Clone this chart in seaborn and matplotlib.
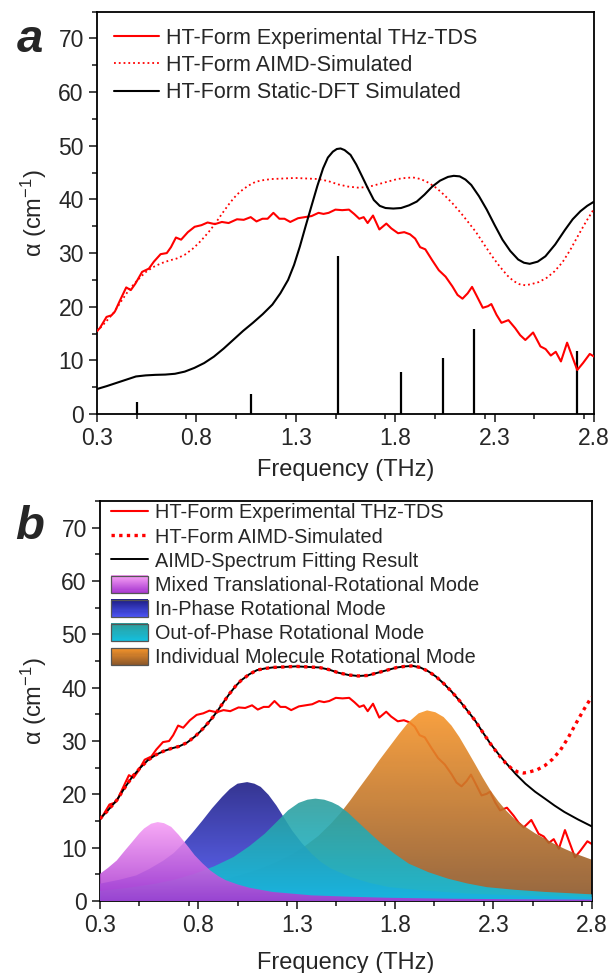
import numpy as np
import matplotlib
matplotlib.use('Agg')
import matplotlib.pyplot as plt
import seaborn as sns
from matplotlib.colors import LinearSegmentedColormap
from matplotlib.lines import Line2D
from matplotlib.patches import Patch, Rectangle
from matplotlib.legend_handler import HandlerBase
from matplotlib.ticker import MultipleLocator

# ---- data ----
# experimental THz-TDS (both panels)
EXP_X = [0.300, 0.314, 0.348, 0.373, 0.390, 0.416, 0.447, 0.470, 0.493, 0.527,
         0.561, 0.586, 0.620, 0.651, 0.672, 0.697, 0.723, 0.757, 0.791, 0.825,
         0.856, 0.893, 0.928, 0.962, 1.004, 1.038, 1.073, 1.102, 1.132, 1.158,
         1.187, 1.217, 1.243, 1.272, 1.311, 1.345, 1.379, 1.414, 1.439, 1.465,
         1.499, 1.533, 1.567, 1.593, 1.619, 1.641, 1.661, 1.688, 1.720, 1.755,
         1.780, 1.814, 1.845, 1.874, 1.900, 1.925, 1.951, 1.985, 2.019, 2.053,
         2.087, 2.113, 2.138, 2.164, 2.186, 2.207, 2.240, 2.266, 2.283, 2.309,
         2.334, 2.369, 2.403, 2.428, 2.454, 2.471, 2.493, 2.513, 2.530, 2.556,
         2.582, 2.607, 2.633, 2.664, 2.693, 2.715, 2.744, 2.778, 2.800]
EXP_Y = [15.5, 16.0, 18.1, 18.4, 19.1, 21.2, 23.6, 23.1, 24.3, 26.5,
         27.1, 28.4, 29.8, 30.0, 31.1, 32.9, 32.5, 33.9, 34.9, 35.2,
         35.7, 35.4, 35.8, 35.6, 36.3, 36.2, 36.7, 35.9, 36.4, 36.4,
         37.5, 36.4, 36.4, 35.8, 36.5, 36.7, 36.9, 37.5, 37.3, 37.5,
         38.1, 38.0, 38.1, 37.3, 36.4, 36.7, 35.6, 37.0, 34.4, 35.5,
         34.6, 33.7, 33.9, 33.5, 32.7, 31.1, 30.7, 28.7, 26.8, 25.6,
         23.8, 22.2, 21.5, 22.5, 23.7, 22.2, 19.8, 20.1, 20.5, 18.5,
         17.0, 17.5, 16.0, 14.7, 13.8, 14.4, 15.2, 13.8, 12.6, 12.1,
         10.9, 11.6, 9.8, 13.3, 10.4, 8.2, 9.5, 11.2, 10.7]

# AIMD simulated spectrum
AIMD_X = [0.300, 0.340, 0.385, 0.425, 0.464, 0.505, 0.543, 0.583, 0.623, 0.662,
          0.702, 0.742, 0.781, 0.810, 0.840, 0.870, 0.900, 0.930, 0.959, 0.989,
          1.018, 1.058, 1.098, 1.137, 1.177, 1.236, 1.296, 1.355, 1.414, 1.464,
          1.513, 1.562, 1.612, 1.661, 1.711, 1.760, 1.810, 1.850, 1.889, 1.928,
          1.968, 2.008, 2.047, 2.087, 2.127, 2.166, 2.206, 2.245, 2.285, 2.325,
          2.364, 2.394, 2.424, 2.454, 2.483, 2.522, 2.562, 2.601, 2.641, 2.680,
          2.720, 2.760, 2.800]
AIMD_Y = [15.4, 17.0, 18.9, 21.2, 23.3, 25.0, 26.4, 27.4, 28.1, 28.6,
          29.0, 29.7, 30.8, 31.8, 33.0, 34.3, 35.8, 37.4, 38.9, 40.3,
          41.4, 42.5, 43.3, 43.6, 43.8, 43.9, 44.0, 43.9, 43.8, 43.4,
          42.8, 42.4, 42.2, 42.3, 42.8, 43.3, 43.8, 44.0, 44.1, 43.8,
          43.1, 42.1, 40.8, 39.3, 37.6, 35.8, 33.9, 31.7, 29.5, 27.5,
          25.8, 24.8, 24.2, 24.0, 24.2, 24.6, 25.4, 26.6, 28.3, 30.6,
          33.3, 35.9, 38.3]

# fitting result: identical to AIMD up to 2.285 THz, then its own tail
FIT_TAIL_X = [2.325, 2.364, 2.414, 2.463, 2.512, 2.562, 2.611, 2.661, 2.730, 2.800]
FIT_TAIL_Y = [27.6, 25.9, 23.8, 22.0, 20.5, 19.2, 17.9, 16.7, 15.3, 14.0]

# static DFT simulated spectrum
DFT_X = [0.300, 0.349, 0.398, 0.447, 0.496, 0.545, 0.594, 0.643, 0.692, 0.741,
         0.790, 0.839, 0.888, 0.937, 0.986, 1.035, 1.084, 1.133, 1.182, 1.222,
         1.261, 1.291, 1.320, 1.349, 1.378, 1.408, 1.437, 1.461, 1.486, 1.506,
         1.525, 1.545, 1.575, 1.604, 1.633, 1.663, 1.692, 1.722, 1.751, 1.790,
         1.829, 1.869, 1.908, 1.947, 1.986, 2.025, 2.065, 2.094, 2.124, 2.153,
         2.182, 2.221, 2.260, 2.300, 2.339, 2.378, 2.418, 2.447, 2.476, 2.516,
         2.555, 2.604, 2.653, 2.692, 2.731, 2.765, 2.800]
DFT_Y = [4.66, 5.2, 5.8, 6.4, 7.0, 7.2, 7.3, 7.35, 7.5, 7.9,
         8.6, 9.5, 10.7, 12.2, 13.85, 15.5, 17.0, 18.6, 20.4, 22.5,
         25.0, 27.8, 31.2, 35.0, 38.7, 42.5, 45.8, 47.8, 48.9, 49.4,
         49.5, 49.2, 48.3, 46.5, 44.3, 42.0, 39.9, 38.8, 38.4, 38.3,
         38.4, 38.9, 39.6, 40.9, 42.4, 43.5, 44.2, 44.4, 44.3, 43.7,
         42.7, 40.6, 38.1, 35.2, 32.5, 30.4, 28.8, 28.2, 28.0, 28.4,
         29.4, 31.6, 34.3, 36.3, 37.8, 38.8, 39.6]

# DFT normal modes (stick spectrum)
STICK_X = [0.500, 1.076, 1.511, 1.830, 2.040, 2.196, 2.713]
STICK_Y = [2.2, 3.8, 29.5, 7.9, 10.4, 15.9, 11.8]

# fitted mode components (panel b)
PINK_X = [0.300, 0.340, 0.385, 0.425, 0.464, 0.500, 0.524, 0.560, 0.593, 0.625,
          0.662, 0.700, 0.722, 0.750, 0.781, 0.820, 0.860, 0.900, 0.939, 1.000,
          1.058, 1.177, 1.375, 1.570, 1.770, 2.100, 2.450, 2.800]
PINK_Y = [5.1, 6.2, 7.6, 9.4, 11.1, 12.7, 13.6, 14.5, 14.8, 14.6,
          13.9, 12.4, 11.4, 10.1, 8.6, 7.1, 5.75, 4.7, 3.9, 3.1,
          2.5, 1.7, 1.06, 0.8, 0.6, 0.42, 0.32, 0.25]
BLUE_X = [0.300, 0.400, 0.484, 0.550, 0.623, 0.675, 0.722, 0.770, 0.821, 0.870,
          0.920, 0.960, 0.999, 1.048, 1.085, 1.117, 1.157, 1.197, 1.236, 1.276,
          1.325, 1.375, 1.424, 1.474, 1.573, 1.670, 1.770, 1.970, 2.166, 2.450,
          2.800]
BLUE_Y = [3.25, 4.0, 4.8, 6.0, 7.6, 9.0, 10.75, 12.8, 15.1, 17.4,
          19.5, 21.0, 22.0, 22.3, 22.0, 21.4, 19.9, 17.9, 15.6, 13.25,
          10.9, 8.9, 7.3, 6.1, 4.5, 3.4, 2.6, 1.9, 1.4, 1.0,
          0.75]
TEAL_X = [0.300, 0.450, 0.583, 0.680, 0.781, 0.880, 0.979, 1.060, 1.137, 1.200,
          1.256, 1.310, 1.355, 1.395, 1.440, 1.480, 1.513, 1.560, 1.612, 1.670,
          1.731, 1.800, 1.870, 1.970, 2.068, 2.166, 2.266, 2.410, 2.563, 2.800]
TEAL_Y = [1.9, 2.5, 3.25, 4.0, 5.1, 6.5, 8.25, 10.3, 12.6, 14.9,
          17.0, 18.4, 19.0, 19.2, 19.0, 18.5, 17.9, 16.6, 14.8, 12.8,
          10.75, 8.8, 7.0, 5.4, 4.2, 3.3, 2.6, 2.1, 1.7, 1.25]
ORANGE_X = [0.300, 0.450, 0.583, 0.680, 0.781, 0.880, 0.979, 1.080, 1.177, 1.260,
            1.335, 1.410, 1.474, 1.525, 1.573, 1.620, 1.672, 1.720, 1.771, 1.820,
            1.870, 1.920, 1.963, 2.005, 2.047, 2.087, 2.127, 2.166, 2.206, 2.245,
            2.285, 2.325, 2.364, 2.410, 2.463, 2.512, 2.562, 2.610, 2.661, 2.730,
            2.800]
ORANGE_Y = [1.06, 1.4, 1.9, 2.35, 2.9, 3.6, 4.5, 5.6, 7.0, 8.4,
            10.1, 12.2, 14.5, 16.6, 18.9, 21.3, 23.9, 26.4, 28.9, 31.3,
            33.6, 35.2, 35.75, 35.4, 34.5, 32.9, 30.75, 28.3, 25.75, 23.2,
            20.75, 18.7, 17.0, 15.3, 13.9, 12.7, 11.7, 10.7, 9.8, 8.7,
            7.75]

X_TICKS = [0.3, 0.8, 1.3, 1.8, 2.3, 2.8]
Y_TICKS = [0, 10, 20, 30, 40, 50, 60, 70]

LEGEND_A = ['HT-Form Experimental THz-TDS', 'HT-Form AIMD-Simulated',
            'HT-Form Static-DFT Simulated']
LEGEND_B = ['HT-Form Experimental THz-TDS', 'HT-Form AIMD-Simulated',
            'AIMD-Spectrum Fitting Result']
MODE_LABELS = ['Mixed Translational-Rotational Mode', 'In-Phase Rotational Mode',
               'Out-of-Phase Rotational Mode', 'Individual Molecule Rotational Mode']
# (top colour, bottom colour) of each gradient fill
MODE_COLORS = [('#f7a0f5', '#a838d0'), ('#1e1e86', '#4c55f5'),
               ('#2f9e9c', '#12c0e0'), ('#f8962a', '#8a562a')]

# ---- style ----
sns.set_style('ticks')
plt.rcParams['font.family'] = ['Liberation Sans', 'DejaVu Sans']
plt.rcParams['mathtext.fontset'] = 'custom'
plt.rcParams['mathtext.rm'] = 'Liberation Sans'
plt.rcParams['mathtext.it'] = 'Liberation Sans:italic'
plt.rcParams['axes.linewidth'] = 1.3
plt.rcParams['axes.edgecolor'] = 'black'

RED = '#ff0000'
TICK_FS = 16.5
LABEL_FS = 17


class GradientHandler(HandlerBase):
    """legend box filled with a vertical colour gradient"""
    def create_artists(self, legend, orig_handle, xdescent, ydescent,
                       width, height, fontsize, trans):
        top, bot = orig_handle.grad
        cmap = LinearSegmentedColormap.from_list('g', [bot, top])
        n = 16
        arts = []
        for i in range(n):
            r = Rectangle((-xdescent, -ydescent + height * i / n), width, height / n + 0.3,
                          facecolor=cmap((i + 0.5) / n), edgecolor='none', transform=trans)
            arts.append(r)
        arts.append(Rectangle((-xdescent, -ydescent), width, height, facecolor='none',
                              edgecolor='#555555', lw=0.9, transform=trans))
        return arts


def gradient_fill(ax, x, y, top, bot, z):
    poly = ax.fill_between(x, 0, y, color='none', lw=0)
    cmap = LinearSegmentedColormap.from_list('g', [bot, top])
    grad = np.linspace(0, 1, 256).reshape(-1, 1)
    im = ax.imshow(grad, cmap=cmap, aspect='auto', origin='lower',
                   extent=[x[0], x[-1], 0, max(y)], alpha=0.9, zorder=z,
                   interpolation='bilinear')
    im.set_clip_path(poly.get_paths()[0], transform=ax.transData)


def style_axes(ax):
    ax.set_xlim(0.3, 2.8)
    ax.set_ylim(0, 75)
    ax.set_xticks(X_TICKS)
    ax.set_xticklabels([f'{t:.1f}' for t in X_TICKS])
    ax.set_yticks(Y_TICKS)
    ax.xaxis.set_minor_locator(MultipleLocator(0.25))
    ax.yaxis.set_minor_locator(MultipleLocator(5))
    ax.tick_params(which='major', direction='out', length=5.5, width=1.2,
                   labelsize=TICK_FS, pad=4, top=False, right=False)
    ax.tick_params(which='minor', direction='out', length=3.5, width=1.2,
                   top=False, right=False)
    for s in ax.spines.values():
        s.set_visible(True)
        s.set_linewidth(1.3)
    ax.set_xlabel('Frequency (THz)', fontsize=LABEL_FS)
    ax.set_ylabel('α (cm$^{-1}$)', fontsize=LABEL_FS)


fig = plt.figure(figsize=(6.10, 9.73), dpi=100)
ax_a = fig.add_axes([0.159, 0.5745, 0.815, 0.4135])
ax_b = fig.add_axes([0.164, 0.0740, 0.806, 0.4110])

# ---- panel a ----
sns.lineplot(x=EXP_X, y=EXP_Y, ax=ax_a, color=RED, lw=1.5, zorder=3)
sns.lineplot(x=AIMD_X, y=AIMD_Y, ax=ax_a, color=RED, lw=1.3, linestyle=':', zorder=3)
sns.lineplot(x=DFT_X, y=DFT_Y, ax=ax_a, color='black', lw=1.5, zorder=3)
ax_a.vlines(STICK_X, 0, STICK_Y, color='black', lw=1.6, zorder=2)
style_axes(ax_a)
ax_a.xaxis.set_label_coords(0.5, -0.112)
ax_a.yaxis.set_label_coords(-0.097, 0.5)

handles_a = [Line2D([], [], color=RED, lw=1.5),
             Line2D([], [], color=RED, lw=1.3, linestyle=':'),
             Line2D([], [], color='black', lw=1.5)]
ax_a.legend(handles_a, LEGEND_A, loc='upper left', bbox_to_anchor=(0.034, 0.960),
            frameon=False, fontsize=15.5, handlelength=2.1, handletextpad=0.3,
            labelspacing=0.29, borderpad=0, borderaxespad=0)

# ---- panel b ----
sns.lineplot(x=EXP_X, y=EXP_Y, ax=ax_b, color=RED, lw=1.5, zorder=1)
for (xs, ys), (top, bot), z in zip([(ORANGE_X, ORANGE_Y), (BLUE_X, BLUE_Y),
                                     (TEAL_X, TEAL_Y), (PINK_X, PINK_Y)],
                                    [MODE_COLORS[3], MODE_COLORS[1],
                                     MODE_COLORS[2], MODE_COLORS[0]],
                                    [2, 3, 4, 5]):
    gradient_fill(ax_b, xs, ys, top, bot, z)

n_same = AIMD_X.index(2.285) + 1
fit_x = AIMD_X[:n_same] + FIT_TAIL_X
fit_y = AIMD_Y[:n_same] + FIT_TAIL_Y
sns.lineplot(x=fit_x, y=fit_y, ax=ax_b, color='black', lw=1.4, zorder=6)
sns.lineplot(x=AIMD_X, y=AIMD_Y, ax=ax_b, color=RED, lw=2.4,
             linestyle=(0, (1, 1.3)), zorder=7)
style_axes(ax_b)
ax_b.xaxis.set_label_coords(0.5, -0.128)
ax_b.yaxis.set_label_coords(-0.104, 0.5)

handles_b = [Line2D([], [], color=RED, lw=1.5),
             Line2D([], [], color=RED, lw=2.4, linestyle=(0, (1, 1.3))),
             Line2D([], [], color='black', lw=1.4)]
mode_handles = []
for c in MODE_COLORS:
    p = Patch()
    p.grad = c
    mode_handles.append(p)
ax_b.legend(handles_b + mode_handles, LEGEND_B + MODE_LABELS, loc='upper left',
            bbox_to_anchor=(0.022, 0.995), frameon=False, fontsize=14.3,
            handlelength=1.85, handleheight=0.95, handletextpad=0.35,
            labelspacing=0.24, borderpad=0, borderaxespad=0,
            handler_map={p: GradientHandler() for p in mode_handles})

# panel letters
fig.text(30 / 610, 1 - 40 / 973, 'a', fontsize=34, fontweight='bold',
         fontstyle='italic', ha='center', va='center')
fig.text(30 / 610, 1 - 527 / 973, 'b', fontsize=34, fontweight='bold',
         fontstyle='italic', ha='center', va='center')

fig.savefig('out.png', dpi=100)
